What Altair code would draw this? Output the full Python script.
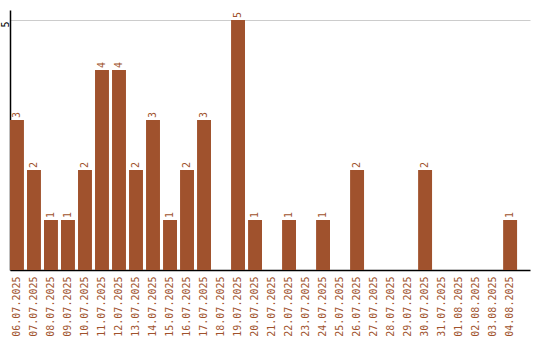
import altair as alt
import pandas as pd

dates = ["06.07.2025","07.07.2025","08.07.2025","09.07.2025","10.07.2025","11.07.2025",
         "12.07.2025","13.07.2025","14.07.2025","15.07.2025","16.07.2025","17.07.2025",
         "18.07.2025","19.07.2025","20.07.2025","21.07.2025","22.07.2025","23.07.2025",
         "24.07.2025","25.07.2025","26.07.2025","27.07.2025","28.07.2025","29.07.2025",
         "30.07.2025","31.07.2025","01.08.2025","02.08.2025","03.08.2025","04.08.2025"]
counts = [3,2,1,1,2,4,4,2,3,1,2,3,0,5,1,0,1,0,1,0,2,0,0,0,2,0,0,0,0,1]

df = pd.DataFrame({"date": dates, "count": counts})
df["label"] = [str(c) if c > 0 else "" for c in counts]

COLOR = "#A0522D"
FONT = "DejaVu Sans Mono"

x = alt.X("date:N", sort=dates, title=None,
          scale=alt.Scale(paddingInner=0.18, paddingOuter=0.38, align=0),
          axis=alt.Axis(labelAngle=270, labelAlign="right", labelBaseline="middle",
                        labelColor=COLOR, labelFont=FONT, labelFontSize=10,
                        ticks=False, labelPadding=6, domainColor="black",
                        domainWidth=1.5, grid=False, labelOverlap=False))
y = alt.Y("count:Q", title=None, scale=alt.Scale(domain=[0, 5.2], nice=False),
          axis=alt.Axis(values=[5], ticks=False, labelAngle=270, labelAlign="center",
                        labelBaseline="middle", labelColor="black", labelFont=FONT,
                        labelFontSize=10, labelPadding=5, labelFlush=False,
                        labelOffset=4,
                        domainColor="black", domainWidth=1.5, grid=True,
                        gridColor="#cccccc"))

bars = alt.Chart(df).mark_bar(color=COLOR).encode(x=x, y=y)
text = alt.Chart(df).mark_text(angle=270, align="left", baseline="middle", dx=2,
                               color=COLOR, font=FONT, fontSize=10).encode(
    x=alt.X("date:N", sort=dates), y="count:Q", text="label:N")

chart = (bars + text).properties(
    width=520, height=260,
    autosize=alt.AutoSizeParams(type="none"),
    padding={"left": 10, "top": 10, "right": 10, "bottom": 70},
).configure_view(stroke=None)

chart.save("out.html", embed_options={"renderer": "svg", "actions": False})
